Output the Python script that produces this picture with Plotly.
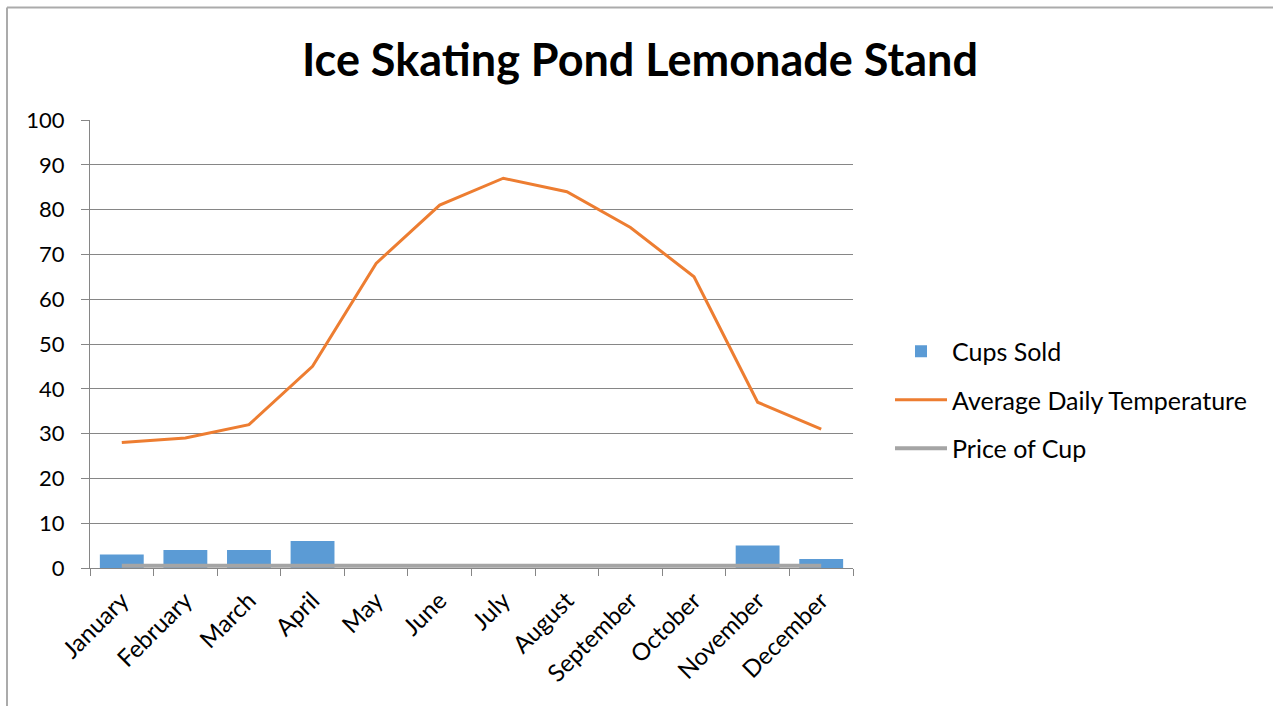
import plotly.graph_objects as go

months = ["January", "February", "March", "April", "May", "June", "July",
          "August", "September", "October", "November", "December"]
cups_sold = [3, 4, 4, 6, 0, 0, 0, 0, 0, 0, 5, 2]
avg_temp = [28, 29, 32, 45, 68, 81, 87, 84, 76, 65, 37, 31]
price_of_cup = [0.5] * 12

W, H = 1273, 706
L, R, T, B = 90, 1273 - 853, 120, 706 - 568
FONT = "Lato"

fig = go.Figure()
fig.add_trace(go.Bar(x=months, y=cups_sold, name="Cups Sold",
                     marker=dict(color="#5B9BD5", line=dict(width=0)),
                     legendgroup="a"))
fig.add_trace(go.Scatter(x=months, y=avg_temp, name="Average Daily Temperature",
                         mode="lines", line=dict(color="#ED7D31", width=3),
                         legendgroup="b"))
fig.add_trace(go.Scatter(x=months, y=price_of_cup, name="Price of Cup",
                         mode="lines", line=dict(color="#A5A5A5", width=4),
                         legendgroup="c"))

pw = W - L - R
ph = H - T - B
def px_x(x):
    return (x - L) / pw
def px_y(y):
    return (H - B - y) / ph

shapes = [
    dict(type="line", xref="paper", yref="paper",
         x0=px_x(7), x1=px_x(1290), y0=px_y(7.5), y1=px_y(7.5),
         line=dict(color="#ABABAB", width=2)),
    dict(type="line", xref="paper", yref="paper",
         x0=px_x(7), x1=px_x(7), y0=px_y(7.5), y1=px_y(720),
         line=dict(color="#ABABAB", width=2)),
]

fig.update_layout(
    width=W, height=H,
    margin=dict(l=L, r=R, t=T, b=B, pad=0),
    paper_bgcolor="white", plot_bgcolor="white",
    font=dict(family=FONT, color="#000000", size=22),
    title=dict(text="<b>Ice Skating Pond Lemonade Stand</b>",
               x=640 / W, xanchor="center", y=1 - 60 / H, yanchor="middle",
               font=dict(family=FONT, size=45, color="#000000")),
    bargap=0.31,
    showlegend=True,
    legend=dict(x=px_x(890), xanchor="left", y=px_y(400), yanchor="middle",
                font=dict(family=FONT, size=25, color="#000000"),
                traceorder="grouped", tracegroupgap=13,
                bgcolor="rgba(0,0,0,0)", itemwidth=52),
    shapes=shapes,
    xaxis=dict(type="category", tickangle=-45, tickson="boundaries",
               showgrid=False, showline=True, linecolor="#868686", linewidth=1,
               ticks="outside", ticklen=7, tickcolor="#868686",
               ticklabelstandoff=8,
               tickfont=dict(family=FONT, size=24, color="#000000"),
               fixedrange=True),
    yaxis=dict(range=[0, 100], dtick=10, showgrid=True, gridcolor="#868686",
               gridwidth=1, showline=True, linecolor="#868686", linewidth=1,
               ticks="outside", ticklen=8, tickcolor="#868686", zeroline=False,
               ticklabelstandoff=12,
               tickfont=dict(family=FONT, size=22, color="#000000"),
               fixedrange=True),
)

fig.write_html("out.html")
